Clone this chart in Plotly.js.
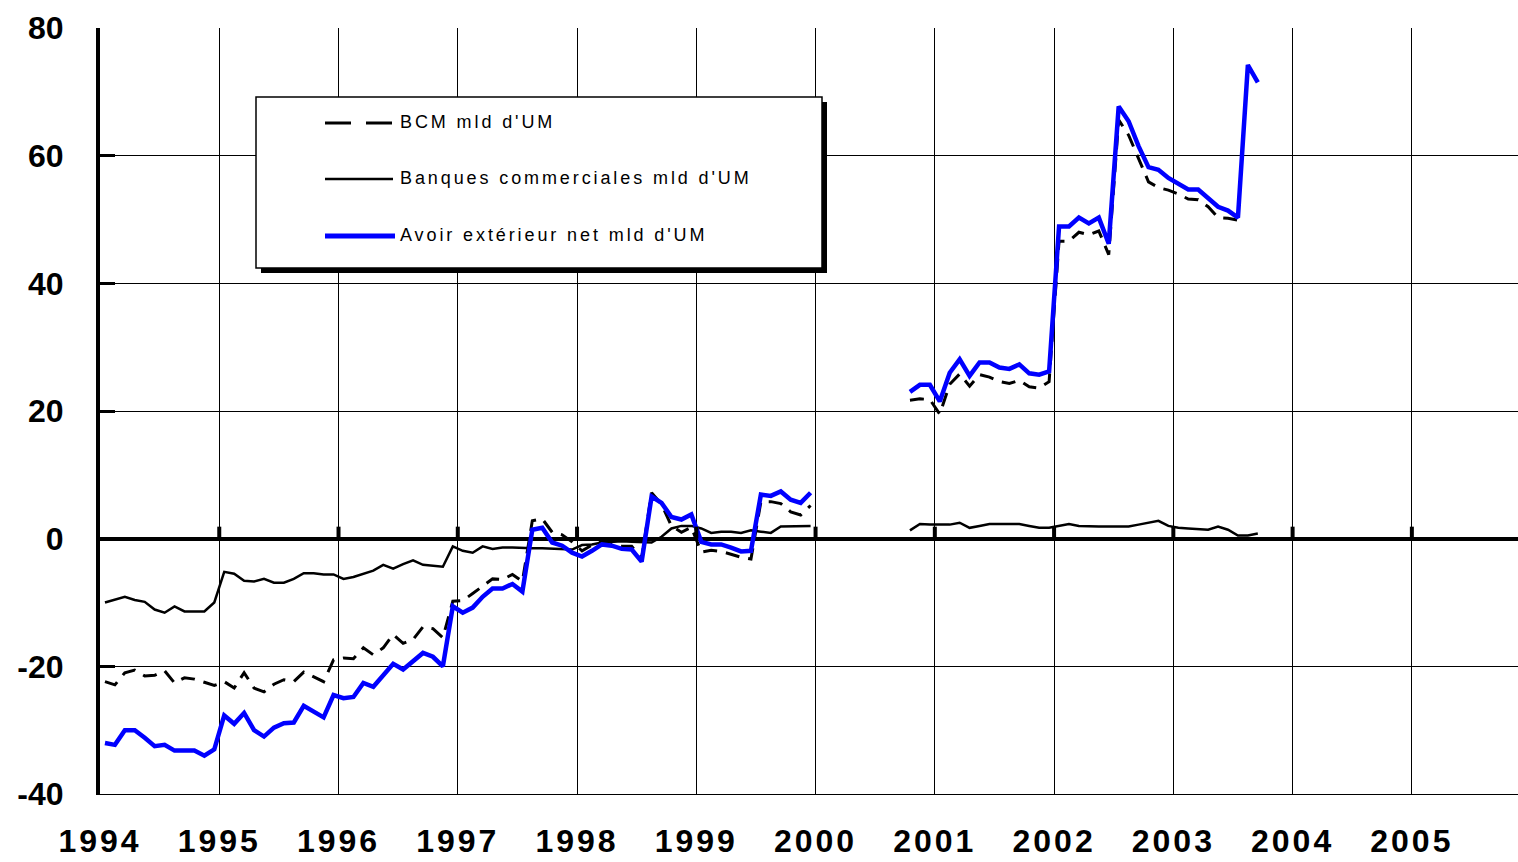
<!DOCTYPE html>
<html>
<head>
<meta charset="utf-8">
<script src="https://cdn.plot.ly/plotly-3.0.1.min.js"></script>
<style>
  html, body { margin: 0; padding: 0; background: #fff; }
  #chart { width: 1518px; height: 862px; }
</style>
</head>
<body>
<div id="chart"></div>
<script>
// ---- data (monthly, starting January 1994) ----
const startYear = 1994;
const monthsPerYear = 12;

const seriesNames = ["BCM mld d'UM", "Banques commerciales mld d'UM", "Avoir extérieur net mld d'UM"];

const bcm = [
  -22.4, -22.9, -21.0, -20.6, -21.5, -21.4, -20.7, -22.6, -21.8, -22.0, -22.5, -23.0, // 1994
  -22.4, -23.4, -21.0, -23.4, -24.0, -22.8, -22.1, -22.4, -20.9, -21.7, -22.4, -19.0, // 1995
  -18.7, -18.8, -17.1, -18.2, -17.1, -15.0, -16.4, -15.8, -13.8, -14.1, -15.5, -9.8,  // 1996
  -9.7, -8.6, -7.5, -6.3, -6.4, -5.6, -6.7, 2.8, 3.1, 1.0, 0.6, -0.5,                  // 1997
  -1.9, -1.0, -0.3, -0.6, -1.2, -1.2, -3.1, 7.2, 5.4, 2.0, 1.0, 1.8,                   // 1998
  -2.1, -1.8, -2.0, -2.5, -2.9, -3.2, 5.8, 5.8, 5.5, 4.2, 3.7, 5.2,                    // 1999
  null, null, null, null, null, null, null, null, null, 21.7, 21.9, 21.8,             // 2000
  19.5, 24.2, 25.8, 23.9, 25.7, 25.3, 24.6, 24.3, 24.8, 23.8, 23.6, 24.6,             // 2001
  46.6, 46.6, 48.0, 47.6, 48.2, 44.5, 65.6, 63.2, 59.6, 55.9, 55.0, 54.6,             // 2002
  54.0, 53.2, 53.1, 52.0, 50.3, 50.2, 49.9                                            // 2003
];

const banques = [
  -10.0, -9.6, -9.1, -9.6, -9.9, -11.1, -11.6, -10.6, -11.4, -11.4, -11.4, -10.0,     // 1994
  -5.2, -5.5, -6.6, -6.7, -6.3, -6.9, -6.9, -6.3, -5.4, -5.4, -5.6, -5.6,             // 1995
  -6.3, -6.0, -5.5, -5.0, -4.1, -4.7, -4.0, -3.4, -4.1, -4.3, -4.4, -1.2,             // 1996
  -1.9, -2.2, -1.2, -1.6, -1.4, -1.4, -1.5, -1.5, -1.5, -1.6, -1.7, -1.7,             // 1997
  -1.0, -0.9, -0.6, -0.5, -0.4, -0.5, -0.5, -0.6, 0.3, 1.6, 2.0, 2.0,                 // 1998
  1.6, 0.9, 1.1, 1.1, 0.9, 1.3, 1.1, 0.9, 1.9, 1.9, 1.9, 2.0,                         // 1999
  null, null, null, null, null, null, null, null, null, 1.3, 2.3, 2.2,                // 2000
  2.2, 2.2, 2.5, 1.7, 2.0, 2.3, 2.3, 2.3, 2.3, 2.0, 1.7, 1.7,                         // 2001
  2.0, 2.3, 2.0, 1.9, 1.9, 1.9, 1.9, 1.9, 2.2, 2.5, 2.8, 2.0,                         // 2002
  1.7, 1.6, 1.5, 1.4, 1.9, 1.4, 0.5, 0.5, 0.8                                         // 2003
];

const avoirNet = [
  -32.0, -32.3, -30.0, -30.0, -31.2, -32.5, -32.3, -33.2, -33.2, -33.2, -34.0, -33.0, // 1994
  -27.7, -29.0, -27.3, -30.0, -31.0, -29.6, -28.9, -28.8, -26.2, -27.1, -28.0, -24.5, // 1995
  -25.0, -24.8, -22.6, -23.2, -21.3, -19.6, -20.5, -19.3, -17.9, -18.5, -20.0, -10.6, // 1996
  -11.6, -10.8, -9.1, -7.8, -7.8, -7.1, -8.3, 1.4, 1.7, -0.6, -1.1, -2.2,             // 1997
  -2.8, -1.9, -0.9, -1.1, -1.6, -1.7, -3.6, 6.6, 5.6, 3.4, 3.0, 3.8,                  // 1998
  -0.5, -0.9, -0.9, -1.4, -2.0, -1.9, 6.9, 6.7, 7.4, 6.1, 5.6, 7.2,                   // 1999
  null, null, null, null, null, null, null, null, null, 23.0, 24.1, 24.1,             // 2000
  21.5, 26.0, 28.1, 25.5, 27.6, 27.6, 26.8, 26.6, 27.3, 25.9, 25.7, 26.2,             // 2001
  48.9, 48.9, 50.3, 49.4, 50.3, 46.2, 67.7, 65.4, 61.5, 58.2, 57.8, 56.5,             // 2002
  55.5, 54.7, 54.7, 53.4, 52.0, 51.4, 50.3, 74.2, 71.5                                // 2003
];

const yearTicks = [1994, 1995, 1996, 1997, 1998, 1999, 2000, 2001, 2002, 2003, 2004, 2005];
const yTicks = [-40, -20, 0, 20, 40, 60, 80];
const yTickText = ['-40', '-20', '0', '20', '40', '60', '80'];

// ---- helpers ----
// month index -> position in the middle of that month's slot on a year axis
function monthX(n) { return n.map((_, i) => startYear + (i + 0.5) / monthsPerYear); }

// plot area in pixels (for legend box placement)
const W = 1518, H = 862;
const M = { l: 100, r: 0, t: 28, b: 68 };
const pw = W - M.l - M.r, ph = H - M.t - M.b;
const px = v => (v - M.l) / pw;
const py = v => (H - M.b - v) / ph;

const FONT = 'Liberation Sans, Arial, Helvetica, sans-serif';

const traces = [
  {
    x: monthX(bcm), y: bcm, name: seriesNames[0], type: 'scatter', mode: 'lines',
    line: { color: '#000000', width: 3, dash: '14px,9px' }, connectgaps: false,
    showlegend: false, hoverinfo: 'x+y'
  },
  {
    x: monthX(banques), y: banques, name: seriesNames[1], type: 'scatter', mode: 'lines',
    line: { color: '#000000', width: 2.5 }, connectgaps: false,
    showlegend: false, hoverinfo: 'x+y'
  },
  {
    x: monthX(avoirNet), y: avoirNet, name: seriesNames[2], type: 'scatter', mode: 'lines',
    line: { color: '#0000FF', width: 4.5 }, connectgaps: false,
    showlegend: false, hoverinfo: 'x+y'
  }
];

const shapes = [];
// short thick ticks on the zero line at each year
yearTicks.slice(1).forEach(yr => {
  shapes.push({
    type: 'line', xref: 'x', yref: 'y', ysizemode: 'pixel', yanchor: 0,
    x0: yr, x1: yr, y0: 0, y1: 12, line: { color: '#000', width: 4 }, layer: 'above'
  });
});

// legend box with shadow
const box = { x0: 256, x1: 822, y0: 97, y1: 268 };
shapes.push({
  type: 'rect', xref: 'paper', yref: 'paper',
  x0: px(box.x0 + 5), x1: px(box.x1 + 5), y0: py(box.y1 + 5), y1: py(box.y0 + 5),
  fillcolor: '#000', line: { width: 0 }, layer: 'above'
});
shapes.push({
  type: 'rect', xref: 'paper', yref: 'paper',
  x0: px(box.x0), x1: px(box.x1), y0: py(box.y1), y1: py(box.y0),
  fillcolor: '#fff', line: { color: '#000', width: 1.5 }, layer: 'above'
});

const legendRows = [
  { y: 123, line: { color: '#000', width: 3, dash: '26px,15px' }, x0: 325, x1: 393 },
  { y: 179, line: { color: '#000', width: 2.5 }, x0: 325, x1: 393 },
  { y: 236, line: { color: '#0000FF', width: 5 }, x0: 325, x1: 395 }
];
const annotations = [];
legendRows.forEach((r, i) => {
  shapes.push({
    type: 'line', xref: 'paper', yref: 'paper',
    x0: px(r.x0), x1: px(r.x1), y0: py(r.y), y1: py(r.y),
    line: r.line, layer: 'above'
  });
  annotations.push({
    xref: 'paper', yref: 'paper', x: px(398), y: py(r.y - 1), xanchor: 'left', yanchor: 'middle',
    text: '<span style="letter-spacing:2.9px">' + seriesNames[i] + '</span>',
    showarrow: false, font: { family: FONT, size: 18, color: '#000' }
  });
});

const layout = {
  width: W, height: H,
  margin: M,
  paper_bgcolor: '#fff', plot_bgcolor: '#fff',
  showlegend: false,
  xaxis: {
    range: [1994, 2005.89], tickvals: yearTicks,
    ticktext: yearTicks.map(t => '<span style="letter-spacing:3px">' + t + '</span>'),
    showgrid: true, gridcolor: '#000', gridwidth: 1,
    zeroline: false, showline: true, linecolor: '#000', linewidth: 1,
    ticks: '', ticklabelstandoff: 19,
    tickfont: { family: FONT, size: 32, color: '#000', weight: 'bold' },
    fixedrange: true
  },
  yaxis: {
    range: [-40, 80], tickvals: yTicks, ticktext: yTickText,
    showgrid: true, gridcolor: '#000', gridwidth: 1,
    zeroline: true, zerolinecolor: '#000', zerolinewidth: 4,
    showline: true, linecolor: '#000', linewidth: 4,
    ticks: 'inside', ticklen: 15, tickwidth: 3, tickcolor: '#000',
    ticklabelstandoff: 26,
    tickfont: { family: FONT, size: 32, color: '#000', weight: 'bold' },
    fixedrange: true
  },
  shapes: shapes,
  annotations: annotations
};

Plotly.newPlot('chart', traces, layout, { displayModeBar: false, staticPlot: true });
</script>
</body>
</html>
